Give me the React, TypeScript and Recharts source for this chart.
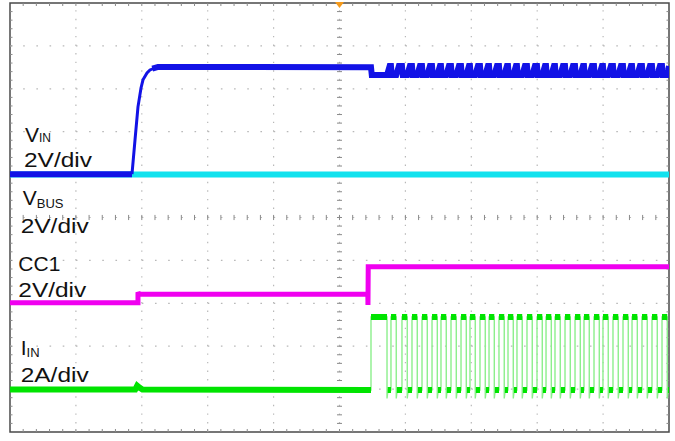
import React from 'react';
import { LineChart, Line, XAxis, YAxis, ReferenceLine, ReferenceDot, ReferenceArea } from 'recharts';

const W = 675;
const H = 470;

// Horizontal axis: time in ms (10 ms/div, 10 divisions). Vertical axis: screen divisions (0 bottom .. 10 top).
const xGrid = [10, 20, 30, 40, 50, 60, 70, 80, 90];
const yGrid = [1, 2, 3, 4, 5, 6, 7, 8, 9];
const xMinor = Array.from({ length: 49 }, (_, i) => (i + 1) * 2);
const yMinor = Array.from({ length: 49 }, (_, i) => +((i + 1) * 0.2).toFixed(1));

// VBUS (cyan)
const vbusT = [0, 100];
const vbusV = [6.0, 6.0];

// VIN (blue): low level, start-up ramp, plateau
const vinLowT = [0, 18.51];
const vinLowV = [6.01, 6.01];
const vinRampT = [18.51, 18.97, 19.42, 19.88, 20.18, 20.79, 21.24, 22.46];
const vinRampV = [6.01, 6.81, 7.58, 8.02, 8.21, 8.37, 8.44, 8.51];
const vinPlateauT = [21.6, 22.46, 54.7];
const vinPlateauV = [8.47, 8.51, 8.5];
const VIN_HIGH = 8.53;
const VIN_LOW = 8.32;

// CC1 (magenta)
const cc1T = [0, 19.42, 19.42, 19.6, 54.3, 54.32, 54.36, 100];
const cc1V = [3.01, 3.01, 3.26, 3.21, 3.21, 2.96, 3.85, 3.85];

// IIN (green) before switching, incl. small bump
const iinT = [0, 19.0, 19.3, 19.7, 20.1];
const iinV = [0.99, 0.99, 1.08, 1.03, 0.99];
// IIN pulse edges (ms)
const iinRise = [54.78, 57.81, 59.48, 61.0, 62.52, 64.04, 65.4, 66.92, 68.44, 69.8, 71.32, 72.69, 74.2, 75.57, 76.93, 78.45, 79.97, 81.34, 82.7, 84.22, 85.74, 87.1, 88.62, 89.98, 91.5, 93.02, 94.39, 95.9, 97.42, 98.94];
const iinFall = [57.21, 58.61, 60.28, 61.8, 63.32, 64.84, 66.2, 67.72, 69.24, 70.6, 72.12, 73.49, 75.0, 76.37, 77.73, 79.25, 80.77, 82.14, 83.5, 85.02, 86.54, 87.9, 89.42, 90.78, 92.3, 93.82, 95.19, 96.7, 98.22, 99.74];
const IIN_LOW = 0.98;
const IIN_HIGH = 2.68;
const IIN_UNDER = 0.78;

// Channel labels
const labels = [
  { x: 2.28, y: 6.77, text: 'V', sub: 'IN', subSize: 12, subDy: 0, fit: 0 },
  { x: 2.12, y: 6.18, text: '2V/div', sub: '', subSize: 0, subDy: 0, fit: 68 },
  { x: 1.93, y: 5.29, text: 'V', sub: 'BUS', subSize: 13, subDy: 3, fit: 0 },
  { x: 1.62, y: 4.65, text: '2V/div', sub: '', subSize: 0, subDy: 0, fit: 68 },
  { x: 1.26, y: 3.76, text: 'CC1', sub: '', subSize: 0, subDy: 0, fit: 0 },
  { x: 1.26, y: 3.15, text: '2V/div', sub: '', subSize: 0, subDy: 0, fit: 68 },
  { x: 1.62, y: 1.79, text: 'I', sub: 'IN', subSize: 13, subDy: 1.5, fit: 0 },
  { x: 1.62, y: 1.17, text: '2A/div', sub: '', subSize: 0, subDy: 0, fit: 68 },
];
const timebaseLabel = { x: 44.0, y: -0.56, text: '10ms/div' };

type P = { x: number; y: number | null };

const vbusData: P[] = vbusT.map((x, i) => ({ x, y: vbusV[i] }));
const vinLowData: P[] = vinLowT.map((x, i) => ({ x, y: vinLowV[i] }));
const vinRampData: P[] = vinRampT.map((x, i) => ({ x, y: vinRampV[i] }));

const vinData: P[] = vinPlateauT.map((x, i) => ({ x, y: vinPlateauV[i] }));
iinRise.forEach((r, i) => {
  const f = iinFall[i];
  vinData.push({ x: r, y: i === 0 ? 8.5 : VIN_HIGH });
  vinData.push({ x: r + 0.12, y: VIN_LOW });
  vinData.push({ x: f, y: VIN_LOW });
  vinData.push({ x: Math.min(f + 0.4, 100), y: VIN_HIGH });
});
if ((vinData[vinData.length - 1].x as number) < 100) vinData.push({ x: 100, y: VIN_HIGH });

const cc1Data: P[] = cc1T.map((x, i) => ({ x, y: cc1V[i] }));

// thin full waveform (edges)
const iinEdges: P[] = [{ x: 0, y: IIN_LOW }];
iinRise.forEach((r, i) => {
  const f = iinFall[i];
  iinEdges.push({ x: r, y: IIN_LOW });
  iinEdges.push({ x: r, y: IIN_HIGH });
  iinEdges.push({ x: f, y: IIN_HIGH });
  iinEdges.push({ x: f, y: IIN_UNDER });
  iinEdges.push({ x: Math.min(f + 0.15, 100), y: IIN_LOW });
});
// bright flat segments
const iinFlat: P[] = iinT.map((x, i) => ({ x, y: iinV[i] }));
iinFlat.push({ x: iinRise[0], y: IIN_LOW });
iinFlat.push({ x: iinRise[0], y: null });
iinRise.forEach((r, i) => {
  const f = iinFall[i];
  iinFlat.push({ x: r, y: IIN_HIGH });
  iinFlat.push({ x: f, y: IIN_HIGH });
  iinFlat.push({ x: f, y: null });
  const next = i + 1 < iinRise.length ? iinRise[i + 1] : 100;
  if (f + 0.1 < next) {
    iinFlat.push({ x: f + 0.1, y: IIN_LOW });
    iinFlat.push({ x: next, y: IIN_LOW });
    iinFlat.push({ x: next, y: null });
  }
});

const FONT = '"Liberation Sans", Arial, Helvetica, sans-serif';

const LabelShape = (lab: typeof labels[number]) => (props: any) => (
  <text x={props.cx} y={props.cy} fontFamily={FONT} fontSize={21} fill="#111">
    <tspan {...(lab.fit ? { textLength: lab.fit, lengthAdjust: 'spacingAndGlyphs' } : {})}>{lab.text}</tspan>
    {lab.sub ? (
      <tspan fontSize={lab.subSize} dy={lab.subDy}>
        {lab.sub}
      </tspan>
    ) : null}
  </text>
);

const Trigger = (props: any) => (
  <polygon
    points={`${props.cx - 4.5},${props.cy - 1} ${props.cx + 4.5},${props.cy - 1} ${props.cx},${props.cy + 5}`}
    fill="#f59a1b"
  />
);

const TickStroke = '#8a8a8a';
const GridStroke = '#b8b8b8';

export default function App() {
  return (
    <div style={{ position: 'absolute', left: 0, top: 0, width: W, height: H, background: '#fff' }}>
      <LineChart width={W} height={H} margin={{ top: 3, right: 6, bottom: 38, left: 10 }}>
        <XAxis type="number" dataKey="x" domain={[0, 100]} hide allowDataOverflow />
        <YAxis type="number" domain={[0, 10]} hide allowDataOverflow />

        {xGrid.map((v) => (
          <ReferenceLine key={'gx' + v} x={v} stroke={GridStroke} strokeWidth={1.2} strokeDasharray="1.4 7.18" />
        ))}
        {yGrid.map((v) => (
          <ReferenceLine key={'gy' + v} y={v} stroke={GridStroke} strokeWidth={1.2} strokeDasharray="1.6 11.58" />
        ))}
        {yMinor.map((v) => (
          <ReferenceLine key={'cv' + v} segment={[{ x: 49.62, y: v }, { x: 50.38, y: v }]} stroke={TickStroke} strokeWidth={1} />
        ))}
        {xMinor.map((v) => (
          <ReferenceLine key={'ch' + v} segment={[{ x: v, y: 4.94 }, { x: v, y: 5.06 }]} stroke={TickStroke} strokeWidth={1} />
        ))}
        {yMinor.map((v) => (
          <ReferenceLine key={'bl' + v} segment={[{ x: 0, y: v }, { x: 0.38, y: v }]} stroke={TickStroke} strokeWidth={1} />
        ))}
        {yMinor.map((v) => (
          <ReferenceLine key={'br' + v} segment={[{ x: 99.62, y: v }, { x: 100, y: v }]} stroke={TickStroke} strokeWidth={1} />
        ))}
        {xMinor.map((v) => (
          <ReferenceLine key={'bt' + v} segment={[{ x: v, y: 9.93 }, { x: v, y: 10 }]} stroke={TickStroke} strokeWidth={1} />
        ))}
        {xMinor.map((v) => (
          <ReferenceLine key={'bb' + v} segment={[{ x: v, y: 0 }, { x: v, y: 0.07 }]} stroke={TickStroke} strokeWidth={1} />
        ))}

        <Line data={vbusData} dataKey="y" type="linear" stroke="#12e2ee" strokeWidth={6} dot={false} isAnimationActive={false} />
        <Line data={vinLowData} dataKey="y" type="linear" stroke="#1212e6" strokeWidth={6} dot={false} isAnimationActive={false} />
        <Line data={vinRampData} dataKey="y" type="linear" stroke="#1212e6" strokeWidth={3} dot={false} isAnimationActive={false} />
        <Line data={vinData} dataKey="y" type="linear" stroke="#1212e6" strokeWidth={6} dot={false} isAnimationActive={false} />
        <Line data={cc1Data} dataKey="y" type="linear" stroke="#f000f0" strokeWidth={5} dot={false} isAnimationActive={false} />
        <Line data={iinEdges} dataKey="y" type="linear" stroke="#8cef8c" strokeWidth={1.4} dot={false} isAnimationActive={false} />
        <Line data={iinFlat} dataKey="y" type="linear" stroke="#00e400" strokeWidth={6} dot={false} isAnimationActive={false} />

        <ReferenceArea x1={0} x2={100} y1={0} y2={10} fill="none" stroke="#4a4a4a" strokeWidth={1.5} ifOverflow="visible" />
        <ReferenceDot x={50} y={10} r={0} shape={Trigger} ifOverflow="visible" />

        {labels.map((lab, i) => (
          <ReferenceDot key={'lab' + i} x={lab.x} y={lab.y} r={0} shape={LabelShape(lab)} ifOverflow="visible" />
        ))}
        <ReferenceDot
          x={timebaseLabel.x}
          y={timebaseLabel.y}
          r={0}
          ifOverflow="visible"
          shape={(p: any) => (
            <text x={p.cx} y={p.cy} fontFamily={FONT} fontSize={21} fill="#111">
              {timebaseLabel.text}
            </text>
          )}
        />
      </LineChart>
    </div>
  );
}
